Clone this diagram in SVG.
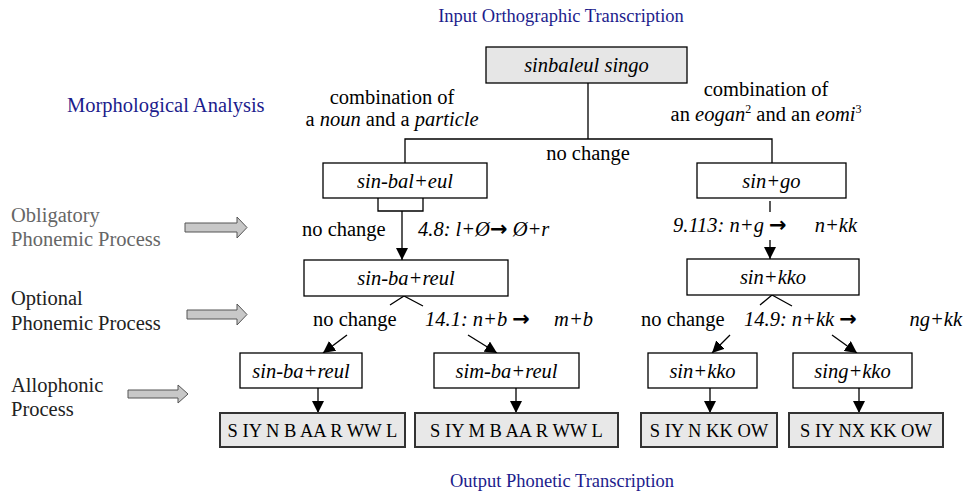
<svg xmlns="http://www.w3.org/2000/svg" width="964" height="497" viewBox="0 0 964 497">
<style>
text{font-family:"Liberation Serif","Times New Roman",serif;font-size:20.5px;fill:#000}
.i{font-style:italic}
.blue{fill:#1c1c8c}
.t{font-size:18.5px}
.g1{fill:#666}
.g2{fill:#222}
.ar{font-family:"DejaVu Sans",sans-serif;font-style:normal;font-weight:bold;font-size:21px}
.sup{font-size:12px}
.o{font-size:18.5px}
.box{fill:#fff;stroke:#000;stroke-width:1.3}
.gbox{fill:#e6e6e6;stroke:#000;stroke-width:1.3}
.obox{fill:#e8e8e8;stroke:#333;stroke-width:2}
.c{fill:none;stroke:#000;stroke-width:1.3}
.blk{fill:#c8c8c8;stroke:#555;stroke-width:1}
</style>
<defs>
<marker id="ah" markerUnits="userSpaceOnUse" markerWidth="14" markerHeight="12" refX="12" refY="6" orient="auto">
<path d="M0,0 L12,6 L0,12 Z" fill="#000"/>
</marker>
</defs>

<text class="blue t" x="561" y="22" text-anchor="middle">Input Orthographic Transcription</text>
<text class="blue t" x="562" y="487" text-anchor="middle">Output Phonetic Transcription</text>
<text class="blue" x="67" y="112">Morphological Analysis</text>

<g id="label-obligatory">
<text class="g1" x="11" y="222">Obligatory</text>
<text class="g1" x="11" y="246">Phonemic Process</text>
<path class="blk" d="M185,223 H237 V217 L247,227.5 L237,238 V232 H185 Z"/>
</g>
<g id="label-optional">
<text class="g2" x="11" y="305">Optional</text>
<text class="g2" x="11" y="330">Phonemic Process</text>
<path class="blk" d="M187,310 H237 V304 L247,314.5 L237,325 V319 H187 Z"/>
</g>
<g id="label-allophonic">
<text class="g2" x="11" y="392">Allophonic</text>
<text class="g2" x="11" y="416">Process</text>
<path class="blk" d="M128,390 H178 V385 L188,394 L178,403 V398 H128 Z"/>
</g>

<g id="connectors">
<path class="c" d="M588,83 V139 M405,163 V139 H772 V163"/>
<path class="c" d="M378,198 V211 H423 V198"/>
<line class="c" x1="402" y1="211" x2="402" y2="260" marker-end="url(#ah)"/>
<line class="c" x1="770" y1="201" x2="770" y2="212"/>
<line class="c" x1="770" y1="240" x2="770" y2="259" marker-end="url(#ah)"/>
<path class="c" d="M390,305 L404,296 L423,306"/>
<line class="c" x1="347" y1="335" x2="323" y2="353" marker-end="url(#ah)"/>
<line class="c" x1="468" y1="335" x2="497" y2="353" marker-end="url(#ah)"/>
<path class="c" d="M760,305 L772,295 L792,306"/>
<line class="c" x1="730" y1="335" x2="712" y2="353" marker-end="url(#ah)"/>
<line class="c" x1="832" y1="335" x2="857" y2="353" marker-end="url(#ah)"/>
<line class="c" x1="318" y1="388" x2="318" y2="413" marker-end="url(#ah)"/>
<line class="c" x1="516" y1="388" x2="516" y2="413" marker-end="url(#ah)"/>
<line class="c" x1="710" y1="388" x2="710" y2="413" marker-end="url(#ah)"/>
<line class="c" x1="859" y1="388" x2="859" y2="413" marker-end="url(#ah)"/>
</g>

<g id="edge-labels">
<text x="392" y="104" text-anchor="middle">combination of</text>
<text x="392" y="126" text-anchor="middle">a <tspan class="i">noun</tspan> and a <tspan class="i">particle</tspan></text>
<text x="766" y="96" text-anchor="middle">combination of</text>
<text x="766" y="121" text-anchor="middle">an <tspan class="i">eogan</tspan><tspan class="sup" dy="-8">2</tspan><tspan dy="8"> and an </tspan><tspan class="i">eomi</tspan><tspan class="sup" dy="-8">3</tspan></text>
<text x="588" y="160" text-anchor="middle">no change</text>
<text x="302" y="236">no change</text>
<text class="i" x="418" y="236">4.8: l+Ø<tspan class="ar">→</tspan> Ø+r</text>
<text class="i" x="673" y="232">9.113: n+g <tspan class="ar">→</tspan><tspan x="857" text-anchor="end">n+kk</tspan></text>
<text x="313" y="326">no change</text>
<text class="i" x="425" y="326">14.1: n+b <tspan class="ar">→</tspan><tspan x="593" text-anchor="end">m+b</tspan></text>
<text x="641" y="326">no change</text>
<text class="i" x="744" y="326">14.9: n+kk <tspan class="ar">→</tspan><tspan x="962" text-anchor="end">ng+kk</tspan></text>
</g>

<g id="n-root"><rect class="gbox" x="486" y="47" width="201" height="36"/><text class="i" x="586.5" y="72" text-anchor="middle">sinbaleul singo</text></g>
<g id="n-sinbaleul"><rect class="box" x="323" y="163" width="164" height="35"/><text class="i" x="405" y="188" text-anchor="middle">sin-bal+eul</text></g>
<g id="n-singo"><rect class="box" x="697" y="163" width="149" height="35"/><text class="i" x="771.5" y="188" text-anchor="middle">sin+go</text></g>
<g id="n-sinbareul"><rect class="box" x="304" y="260" width="204" height="36"/><text class="i" x="406" y="285" text-anchor="middle">sin-ba+reul</text></g>
<g id="n-sinkko"><rect class="box" x="687" y="259" width="172" height="36"/><text class="i" x="773" y="284" text-anchor="middle">sin+kko</text></g>
<g id="n-sinbareul2"><rect class="box" x="240" y="353" width="122" height="35"/><text class="i" x="301" y="378" text-anchor="middle">sin-ba+reul</text></g>
<g id="n-simbareul"><rect class="box" x="434" y="353" width="145" height="35"/><text class="i" x="506.5" y="378" text-anchor="middle">sim-ba+reul</text></g>
<g id="n-sinkko2"><rect class="box" x="648" y="353" width="109" height="35"/><text class="i" x="702.5" y="378" text-anchor="middle">sin+kko</text></g>
<g id="n-singkko"><rect class="box" x="793" y="353" width="119" height="35"/><text class="i" x="852.5" y="378" text-anchor="middle">sing+kko</text></g>
<g id="o1"><rect class="obox" x="220" y="413" width="185" height="34"/><text class="o" x="312.5" y="437" text-anchor="middle">S IY N B AA R WW L</text></g>
<g id="o2"><rect class="obox" x="415" y="413" width="203" height="34"/><text class="o" x="516.5" y="437" text-anchor="middle">S IY M B AA R WW L</text></g>
<g id="o3"><rect class="obox" x="641" y="413" width="136" height="34"/><text class="o" x="709" y="437" text-anchor="middle">S IY N KK OW</text></g>
<g id="o4"><rect class="obox" x="789" y="413" width="154" height="34"/><text class="o" x="866" y="437" text-anchor="middle">S IY NX KK OW</text></g>
</svg>
